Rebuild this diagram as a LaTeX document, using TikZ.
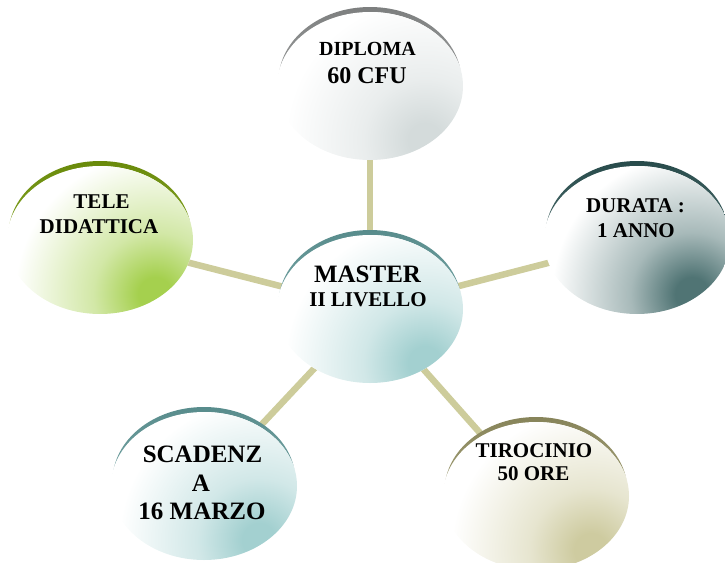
\documentclass[tikz,border=0pt]{standalone}
\usepackage{fontspec}
\setmainfont{Liberation Serif}
\usetikzlibrary{shapes.geometric,backgrounds}
\definecolor{link}{RGB}{205,204,155}
\definecolor{greyarc}{RGB}{125,127,127}
\definecolor{greyarcl}{RGB}{185,188,188}
\definecolor{greyspot}{RGB}{212,219,219}
\definecolor{greenarc}{RGB}{105,138,10}
\definecolor{greenarcl}{RGB}{160,190,70}
\definecolor{greenspot}{RGB}{165,208,78}
\definecolor{slatearc}{RGB}{40,75,75}
\definecolor{slatearcl}{RGB}{110,140,140}
\definecolor{slatespot}{RGB}{80,116,116}
\definecolor{tealarc}{RGB}{88,140,140}
\definecolor{tealarcl}{RGB}{150,190,190}
\definecolor{tealspot}{RGB}{163,208,208}
\definecolor{khakiarc}{RGB}{135,132,90}
\definecolor{khakiarcl}{RGB}{190,188,150}
\definecolor{khakispot}{RGB}{206,203,160}
\colorlet{spotc}{tealspot}
\pgfdeclareradialshading[spotc]{softspot}{\pgfpoint{0bp}{0bp}}{color(0bp)=(spotc); color(3bp)=(spotc); color(11bp)=(spotc!50!white); color(25bp)=(white); color(50bp)=(white)}
\begin{document}
\begin{tikzpicture}[x=1pt,y=-1pt,
  bubble/.style={ellipse, minimum width=186pt, minimum height=148pt, inner sep=0pt,
    path picture={\fill[white] (path picture bounding box.south west) rectangle (path picture bounding box.north east);
      \colorlet{spotc}{#1}%
      \shade[shading=softspot] ([shift={(55,54)}]path picture bounding box.center) circle (140pt);}},
  rim/.style 2 args={top color=#1, bottom color=#2},
  t21/.style={anchor=base, inner sep=0pt, font=\bfseries\fontsize{21}{25}\selectfont},
  t20/.style={anchor=base, inner sep=0pt, font=\bfseries\fontsize{20}{24}\selectfont},
  t24/.style={anchor=base, inner sep=0pt, font=\bfseries\fontsize{24}{28}\selectfont},
  t25/.style={anchor=base, inner sep=0pt, font=\bfseries\fontsize{25}{29}\selectfont},
  linkline/.style={draw=link, line width=6.5pt}]
\useasboundingbox (0,0) rectangle (725,562);
\clip (0,0) rectangle (725,562);
% rims
\shade[rim={greyarc}{greyarcl}] (370,81) ellipse [x radius=91.5pt, y radius=74pt];
\shade[rim={greenarc}{greenarcl}] (100,235) ellipse [x radius=91.5pt, y radius=74pt];
\shade[rim={slatearc}{slatearcl}] (637,235) ellipse [x radius=91.5pt, y radius=74pt];
\shade[rim={tealarc}{tealarcl}] (370,304) ellipse [x radius=91.5pt, y radius=74pt];
\shade[rim={tealarc}{tealarcl}] (204,481) ellipse [x radius=91.5pt, y radius=74pt];
\shade[rim={khakiarc}{khakiarcl}] (536,491) ellipse [x radius=91.5pt, y radius=74pt];
% bubbles
\node[bubble=greyspot] (dip) at (370,86) {};
\node[bubble=greenspot] (tel) at (100,240) {};
\node[bubble=slatespot] (dur) at (637,240) {};
\node[bubble=tealspot] (mas) at (370,309) {};
\node[bubble=tealspot] (sca) at (204,486) {};
\node[bubble=khakispot] (tir) at (536,496) {};
% texts
\node[t20] (dip1) at (367.5,55) {DIPLOMA};
\node[t24] (dip2) at (367,83) {60 CFU};
\node[t21] (tel1) at (101.5,208) {TELE};
\node[t21] (tel2) at (99,233) {DIDATTICA};
\node[t21] (dur1) at (635.5,212) {DURATA :};
\node[t21] (dur2) at (636,237) {1 ANNO};
\node[t25] (mas1) at (367.5,282) {MASTER};
\node[t21] (mas2) at (368,306) {II LIVELLO};
\node[t25] (sca1) at (202.5,462) {SCADENZ};
\node[t25] (sca2) at (201,491) {A};
\node[t25] (sca3) at (202,519) {16 MARZO};
\node[t21] (tir1) at (534,457) {TIROCINIO};
\node[t21] (tir2) at (533.5,480) {50 ORE};
% connectors
\begin{scope}[on background layer]
\draw[linkline] (mas.center) -- (dip.center);
\draw[linkline] (mas.center) -- (tel.center);
\draw[linkline] (mas.center) -- (dur.center);
\draw[linkline] (mas.center) -- (sca.center);
\draw[linkline] (mas.center) -- (tir.center);
\end{scope}
\end{tikzpicture}
\end{document}
